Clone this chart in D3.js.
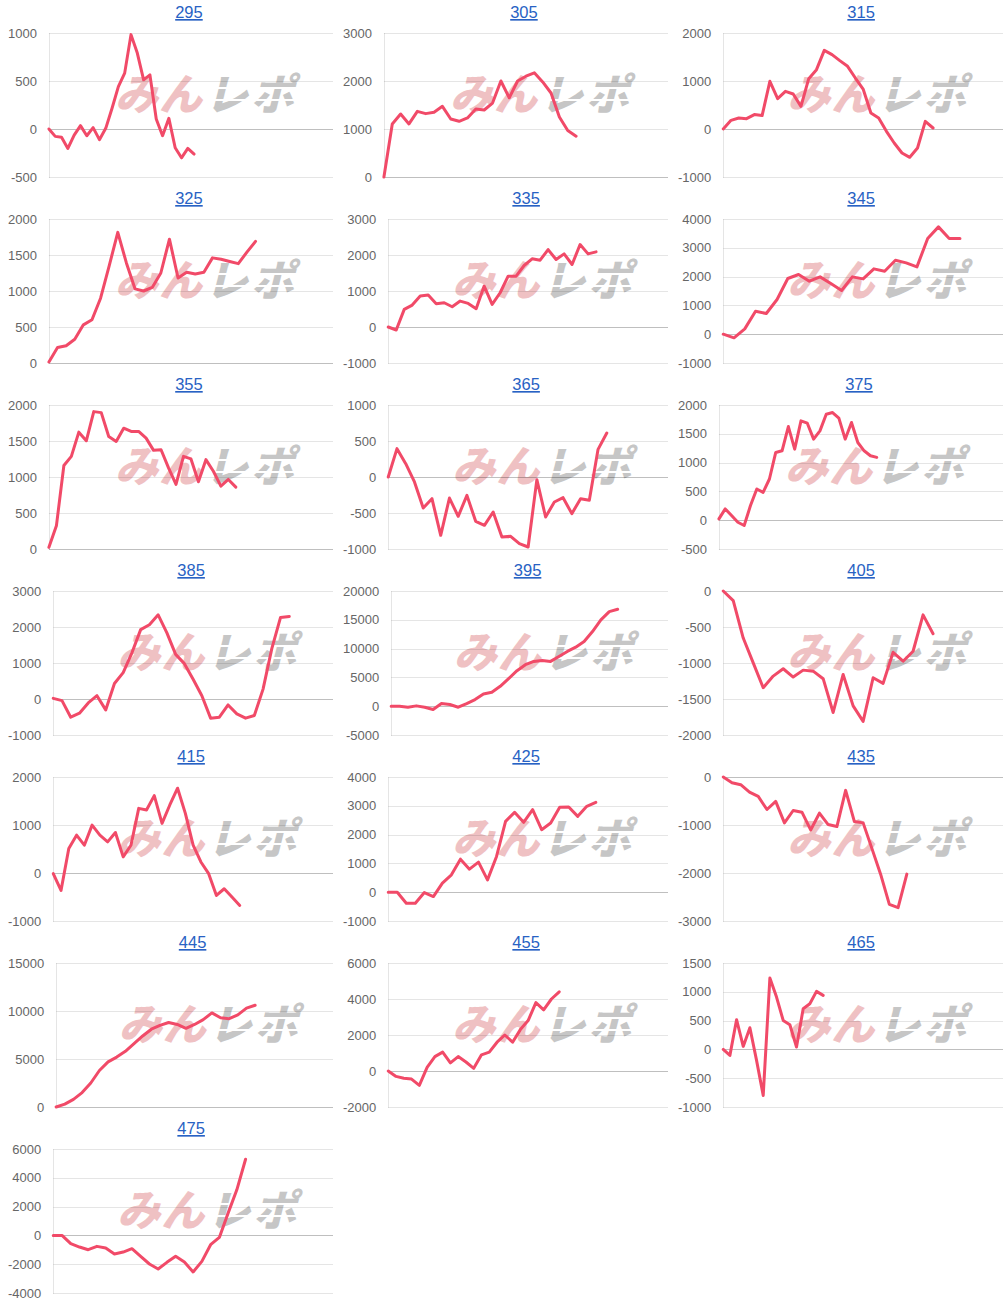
<!DOCTYPE html>
<html>
<head>
<meta charset="utf-8">
<script src="https://cdn.jsdelivr.net/npm/d3@7"></script>
<style>
  body { margin: 0; background: #fff; }
  svg { display: block; }
</style>
</head>
<body>
<svg id="svgx" width="1005" height="1302"></svg>
<script>
// chart titles (machine numbers)
const titles = ["295","305","315","325","335","345","355","365","375","385","395","405","415","425","435","445","455","465","475"];
// number of x slots on each chart's axis
const slots  = [46, 35, 37, 34, 36, 27, 39, 33, 46, 33, 34, 29, 37, 32, 33, 33, 37, 43, 33];
// y axis range and tick step
const yMin   = [-500,    0, -1000,    0, -1000, -1000,    0, -1000, -500, -1000, -5000, -2000, -1000, -1000, -3000,     0, -2000, -1000, -4000];
const yMax   = [1000, 3000,  2000, 2000,  3000,  4000, 2000,  1000, 2000,  3000, 20000,     0,  2000,  4000,     0, 15000,  6000,  1500,  6000];
const yStep  = [ 500, 1000,  1000,  500,  1000,  1000,  500,   500,  500,  1000,  5000,   500,  1000,  1000,  1000,  5000,  2000,   500,  2000];

const s295 = [0,-77,-87,-202,-63,35,-70,14,-111,7,216,442,582,983,791,512,564,105,-70,111,-195,-300,-202,-261];
const s305 = [0,1106,1313,1106,1368,1320,1348,1472,1209,1161,1230,1417,1396,1541,2000,1650,2000,2100,2170,1980,1750,1250,970,850];
const s315 = [0,180,229,215,300,280,993,632,785,729,472,1049,1236,1639,1549,1424,1306,1062,833,333,229,-49,-292,-500,-590,-396,160,21];
const s325 = [14,215,240,330,530,600,900,1350,1814,1390,1030,1000,1050,1250,1720,1180,1260,1237,1260,1460,1440,1410,1380,1540,1690];
const s335 = [0,-83,489,609,859,886,646,674,563,720,655,508,1136,628,951,1413,1413,1708,1893,1856,2151,1874,2031,1736,2290,2031,2087];
const s345 = [0,-127,185,799,718,1204,1933,2072,1840,1991,1759,1516,1991,1921,2269,2188,2569,2477,2338,3322,3727,3322,3322];
const s355 = [23,322,1159,1287,1623,1503,1908,1894,1563,1494,1678,1632,1632,1540,1370,1379,1126,897,1287,1251,933,1241,1080,874,966,860];
const s365 = [0,394,185,-69,-431,-301,-810,-292,-546,-255,-616,-671,-486,-833,-824,-926,-972,-37,-556,-347,-287,-509,-301,-324,384,611];
const s375 = [23,196,81,-35,-92,254,542,484,715,1176,1205,1626,1234,1724,1684,1407,1551,1840,1869,1771,1407,1696,1349,1205,1119,1090];
const s385 = [18,-46,-505,-394,-110,92,-303,431,734,1284,1927,2064,2339,1835,1239,982,550,92,-532,-505,-165,-413,-532,-459,275,1400,2266,2294];
const s395 = [0,0,-173,58,-173,-576,461,288,-173,461,1152,2131,2419,3456,4781,6164,7200,7776,7949,7776,8641,9505,10253,11233,12961,14977,16417,16820];
const s405 = [0,-133,-653,-998,-1343,-1182,-1080,-1195,-1099,-1113,-1218,-1687,-1159,-1595,-1811,-1205,-1283,-851,-975,-837,-331,-593];
const s415 = [-14,-363,509,789,579,998,789,649,844,335,579,1347,1312,1612,1033,1417,1766,1242,579,230,-14,-468,-328,-502,-677];
const s425 = [0,0,-383,-383,-12,-151,313,603,1148,800,1044,429,1241,2459,2773,2425,2865,2169,2401,2947,2958,2633,2981,3121];
const s435 = [0,-119,-160,-314,-405,-677,-509,-956,-698,-733,-1103,-754,-991,-1033,-279,-928,-956,-1487,-2024,-2652,-2722,-2024];
const s445 = [0,300,800,1500,2500,3800,4700,5200,5800,6600,7400,8100,8500,8800,8600,8200,8600,9100,9800,9300,9200,9600,10300,10600];
const s455 = [0,-300,-400,-450,-800,200,800,1050,450,800,500,150,900,1050,1600,2000,1600,2300,2800,3800,3400,4000,4400];
const s465 = [0,-104,515,52,376,-191,-799,1238,909,503,428,41,706,793,1007,938];
const s475 = [0,0,-577,-808,-993,-762,-878,-1293,-1155,-924,-1455,-1986,-2333,-1871,-1455,-1848,-2540,-1801,-647,-139,1547,3164,5289];

const series = [s295,s305,s315,s325,s335,s345,s355,s365,s375,s385,s395,s405,s415,s425,s435,s445,s455,s465,s475];

var colW = 335, rowH = 186;
var fontsize = 13;
var lineColor = "#f14a68";

var svg = d3.select("#svgx");

titles.forEach((title, k) => {
  var col = k % 3, row = Math.floor(k / 3);
  var px = col * colW;
  var top = 33 + row * rowH, bottom = top + 144;
  var ticks = d3.range(yMin[k], yMax[k] + yStep[k] / 2, yStep[k]);

  var g = svg.append("g").attr("class", "panel");

  // measure the widest tick label to place the y axis
  var probe = g.append("text").style("font-family", "'Liberation Sans', Arial, sans-serif")
    .style("font-size", fontsize + "px");
  var maxW = d3.max(ticks, t => { probe.text(String(t)); return probe.node().getComputedTextLength(); });
  probe.remove();

  var left = px + maxW + 20, right = px + 333;

  var x = d3.scaleLinear().domain([0, slots[k] - 1]).range([left, right]);
  var y = d3.scaleLinear().domain([yMin[k], yMax[k]]).range([bottom, top]);

  // watermark
  var cx = (left + right) / 2 + 16, cy = top + 62;
  var wm = g.append("g").attr("transform", `translate(${cx},${cy}) skewX(-14)`);
  wm.append("text")
    .attr("text-anchor", "end").attr("dy", "0.36em").attr("x", 0)
    .style("font-family", "'Noto Sans CJK JP', sans-serif").style("font-weight", 900)
    .style("font-size", "43px").style("letter-spacing", "1px")
    .attr("fill", "#efc1c3").text("みん");
  wm.append("text")
    .attr("text-anchor", "start").attr("dy", "0.36em").attr("x", 2)
    .style("font-family", "'Noto Sans CJK JP', sans-serif").style("font-weight", 900)
    .style("font-size", "43px").style("letter-spacing", "3px")
    .attr("fill", "#c6c6c6").text("レポ");
  [-7, 5].forEach(dy => {
    wm.append("line").attr("x1", 0).attr("x2", 95).attr("y1", dy).attr("y2", dy)
      .attr("stroke", "#fff").attr("stroke-width", 2);
  });

  // grid lines
  g.selectAll(".grid").data(ticks).enter().append("line")
    .attr("class", "grid")
    .attr("x1", left).attr("x2", right)
    .attr("y1", d => Math.round(y(d)) + 0.5).attr("y2", d => Math.round(y(d)) + 0.5)
    .attr("stroke", d => d === 0 ? "rgba(0,0,0,0.25)" : "rgba(0,0,0,0.1)")
    .attr("stroke-width", 1);

  g.append("line")
    .attr("x1", Math.round(left) + 0.5).attr("x2", Math.round(left) + 0.5)
    .attr("y1", top).attr("y2", bottom + 1)
    .attr("stroke", "rgba(0,0,0,0.1)");

  // tick labels
  g.selectAll(".tick").data(ticks).enter().append("text")
    .attr("class", "tick")
    .attr("x", left - 12).attr("y", d => y(d)).attr("dy", "0.36em")
    .attr("text-anchor", "end")
    .style("font-family", "'Liberation Sans', Arial, sans-serif")
    .style("font-size", fontsize + "px")
    .attr("fill", "#666")
    .text(d => d);

  // title
  g.append("text")
    .attr("x", (left + right) / 2 - 2).attr("y", top - 15)
    .attr("text-anchor", "middle")
    .style("font-family", "'Liberation Sans', Arial, sans-serif")
    .style("font-size", "16.5px")
    .style("text-decoration", "underline")
    .attr("fill", "#2862c4")
    .text(title);

  // data line
  var line = d3.line().x((d, i) => x(i)).y(d => y(d));
  g.append("path")
    .datum(series[k])
    .attr("d", line)
    .attr("fill", "none")
    .attr("stroke", lineColor)
    .attr("stroke-width", 3)
    .attr("stroke-linejoin", "round")
    .attr("stroke-linecap", "round");
});
</script>
</body>
</html>
